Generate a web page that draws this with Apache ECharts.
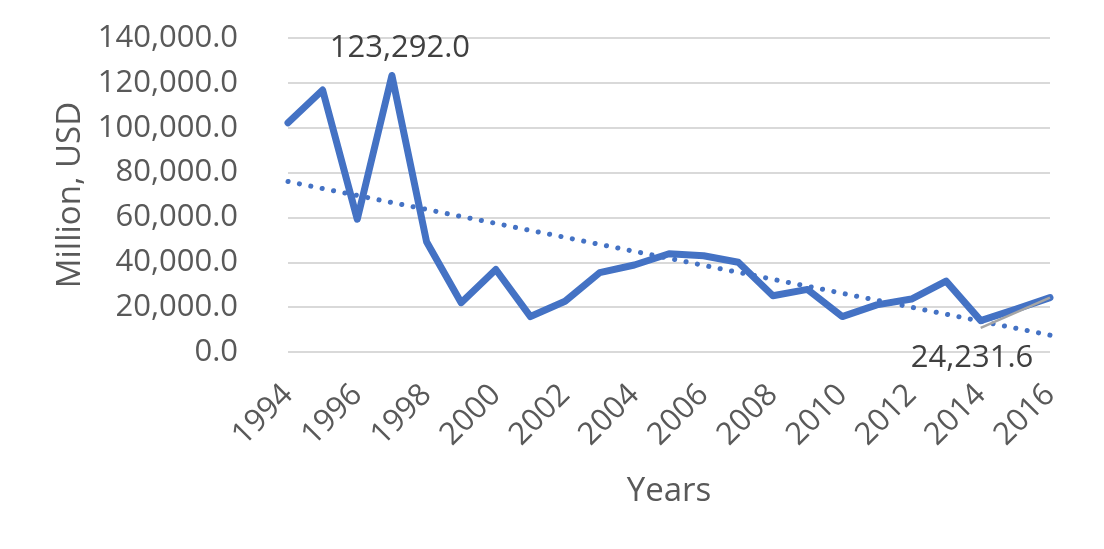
<!DOCTYPE html>
<html><head><meta charset="utf-8">
<script src="https://cdn.jsdelivr.net/npm/echarts@6/dist/echarts.min.js"></script>
<style>html,body{margin:0;padding:0;background:#fff}#c{width:1104px;height:549px}</style>
</head><body><div id="c"></div>
<script>
const years = ['1994','1995','1996','1997','1998','1999','2000','2001','2002','2003','2004','2005','2006','2007','2008','2009','2010','2011','2012','2013','2014','2015','2016'];
const values = [102200,116800,59200,123292.0,49200,22000,36800,15800,22600,35400,38800,43800,42900,40000,25100,27900,15800,21000,23600,31600,14000,19000,24231.6];
const trendStart = 76000, trendEnd = 7500;
const grayStart = 10800, grayEnd = 24231.6;
const yTicks = {min:0, max:140000, interval:20000};

const fmt = v => Number(v).toLocaleString('en-US',{minimumFractionDigits:1, maximumFractionDigits:1});
const trend = years.map((y,i)=> i===0 ? trendStart : (i===years.length-1 ? trendEnd : null));
const gray = years.map((y,i)=> i===years.length-3 ? grayStart : (i===years.length-1 ? grayEnd : null));
const FONT = 'Open Sans';
const LBL = {fontSize:31, color:'#404040', fontFamily:FONT};
const mainData = values.map((v,i)=>{
  if (i===3) return {value:v, label:Object.assign({show:true, position:'top', distance:12, offset:[8,0], formatter:p=>fmt(p.value)}, LBL)};
  if (i===values.length-1) return {value:v, label:Object.assign({show:true, position:'inside', offset:[-78,61], formatter:p=>fmt(p.value)}, LBL)};
  return v;
});

const chart = echarts.init(document.getElementById('c'), null, {renderer:'canvas'});
chart.setOption({
  animation:false,
  grid:{left:288, right:54, top:38, bottom:197, containLabel:false},
  xAxis:{type:'category', data:years, boundaryGap:false,
    name:'Years', nameLocation:'middle', nameGap:123,
    nameTextStyle:{fontSize:33, color:'#595959', fontFamily:FONT},
    axisLine:{show:false}, axisTick:{show:false},
    axisLabel:{interval:1, rotate:45, fontSize:31, color:'#595959', fontFamily:FONT, margin:38}},
  yAxis:{type:'value', min:yTicks.min, max:yTicks.max, interval:yTicks.interval,
    name:'Million, USD', nameLocation:'middle', nameGap:200, nameRotate:90,
    nameTextStyle:{fontSize:33, color:'#595959', fontFamily:FONT},
    axisLine:{show:false}, axisTick:{show:false},
    axisLabel:{formatter:v=>fmt(v), fontSize:31, color:'#595959', fontFamily:FONT, margin:50},
    splitLine:{lineStyle:{color:'#d9d9d9', width:2}}},
  series:[
    {type:'line', data:trend, connectNulls:true, symbol:'none', z:3,
     lineStyle:{color:'#4472C4', width:5, type:[0.1,11.5], cap:'round'}},
    {type:'line', data:mainData, symbol:'circle', symbolSize:0.1, showSymbol:true, z:4,
     itemStyle:{color:'#4472C4'},
     lineStyle:{color:'#4472C4', width:7, cap:'round', join:'round'}},
    {type:'line', data:gray, connectNulls:true, symbol:'none', z:5,
     lineStyle:{color:'#a5a5a5', width:2.5}}
  ]
});
</script></body></html>
